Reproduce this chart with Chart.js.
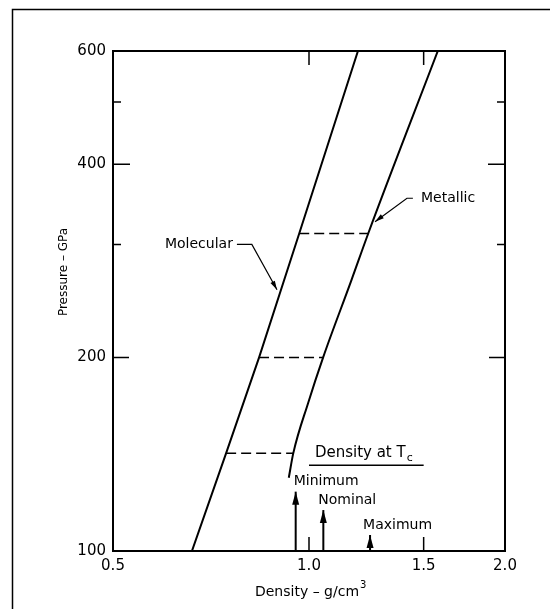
<!DOCTYPE html>
<html>
<head>
<meta charset="utf-8">
<script src="https://cdn.jsdelivr.net/npm/chart.js@4.4.0/dist/chart.umd.min.js"></script>
<style>
  html, body { margin: 0; padding: 0; background: #fff; }
  #wrap { width: 550px; height: 609px; position: relative; }
</style>
</head>
<body>
<div id="wrap"><canvas id="myChart"></canvas></div>
<script>
// pressure (GPa) against density (g/cm3) for the two phases
var molecularDensity = [0.661, 0.746, 0.838, 0.966, 1.189];
var molecularPressure = [100, 142, 200, 312, 600];
var metallicDensity = [0.931, 0.946, 0.997, 1.051, 1.162, 1.233, 1.577];
var metallicPressure = [130, 142, 170, 200, 264, 312, 600];

// dashed tie lines at equal pressure
var tiePressure = [142, 200, 312];
var tieMolecular = [0.746, 0.838, 0.966];
var tieMetallic = [0.946, 1.051, 1.233];

// density at Tc markers
var tcLabels = ['Minimum', 'Nominal', 'Maximum'];
var tcDensity = [0.954, 1.052, 1.241];
var tcArrowTop = [123.7, 115.8, 105.9];

var xTicks = [0.5, 1.0, 1.5, 2.0];
var yTicks = [100, 200, 400, 600];

var FONT = 'DejaVu Sans';

function pts(xs, ys) {
    return xs.map(function (x, i) { return { x: x, y: ys[i] }; });
}

var datasets = [
    { label: 'Molecular', data: pts(molecularDensity, molecularPressure), borderWidth: 2 },
    { label: 'Metallic', data: pts(metallicDensity, metallicPressure), borderWidth: 2, cubicInterpolationMode: 'monotone' }
];
tiePressure.forEach(function (p, i) {
    datasets.push({
        label: 'tie' + i,
        data: [{ x: tieMolecular[i], y: p }, { x: tieMetallic[i], y: p }],
        borderWidth: 1.5,
        borderDash: [10, 5]
    });
});
tcDensity.forEach(function (d, i) {
    datasets.push({
        label: tcLabels[i],
        data: [{ x: d, y: 100 }, { x: d, y: tcArrowTop[i] }],
        borderWidth: 2
    });
});
datasets.forEach(function (ds) {
    ds.borderColor = '#000';
    ds.backgroundColor = '#000';
    ds.pointRadius = 0;
    ds.showLine = true;
    ds.fill = false;
});

function arrowHead(ctx, tx, ty, fx, fy, len, half) {
    var a = Math.atan2(ty - fy, tx - fx);
    ctx.beginPath();
    ctx.moveTo(tx, ty);
    ctx.lineTo(tx - len * Math.cos(a) + half * Math.sin(a), ty - len * Math.sin(a) - half * Math.cos(a));
    ctx.lineTo(tx - len * Math.cos(a) - half * Math.sin(a), ty - len * Math.sin(a) + half * Math.cos(a));
    ctx.closePath();
    ctx.fill();
}

var decorations = {
    id: 'decorations',
    afterDatasetsDraw: function (chart) {
        var ctx = chart.ctx;
        var xs = chart.scales.x, ys = chart.scales.y;
        var a = chart.chartArea;
        var X = function (v) { return xs.getPixelForValue(v); };
        var Y = function (v) { return ys.getPixelForValue(v); };
        ctx.save();
        ctx.strokeStyle = '#000';
        ctx.fillStyle = '#000';

        // outer frame (top and left edge)
        ctx.lineWidth = 1.5;
        ctx.beginPath();
        ctx.moveTo(12.5, 609);
        ctx.lineTo(12.5, 9.5);
        ctx.lineTo(550, 9.5);
        ctx.stroke();

        // plot box
        ctx.lineWidth = 2;
        ctx.strokeRect(a.left, a.top, a.right - a.left, a.bottom - a.top);

        // inward ticks
        ctx.lineWidth = 1.5;
        ctx.beginPath();
        [[200, 16], [300, 8], [400, 17], [500, 8]].forEach(function (t) {
            var y = Y(t[0]);
            ctx.moveTo(a.left, y); ctx.lineTo(a.left + t[1], y);
            ctx.moveTo(a.right, y); ctx.lineTo(a.right - t[1], y);
        });
        [1.0, 1.5].forEach(function (v) {
            var x = X(v);
            ctx.moveTo(x, a.bottom); ctx.lineTo(x, a.bottom - 14);
            ctx.moveTo(x, a.top); ctx.lineTo(x, a.top + 14);
        });
        ctx.stroke();

        // arrowheads on the Tc markers and their labels
        ctx.font = '14px "' + FONT + '"';
        ctx.textBaseline = 'middle';
        ctx.textAlign = 'left';
        var labelShift = [-2, -5, -7];
        tcDensity.forEach(function (d, i) {
            var x = X(d), y = Y(tcArrowTop[i]);
            arrowHead(ctx, x, y, x, y + 20, 13, 3.5);
            ctx.fillText(tcLabels[i], x + labelShift[i], y - 10);
        });

        // "Density at Tc" heading, underlined from 1.0 to 1.5
        var uy = Y(136);
        ctx.lineWidth = 1.5;
        ctx.beginPath();
        ctx.moveTo(X(1.0), uy); ctx.lineTo(X(1.5), uy);
        ctx.stroke();
        ctx.textBaseline = 'alphabetic';
        ctx.font = '15px "' + FONT + '"';
        var hx = X(1.021), hy = uy - 8;
        ctx.fillText('Density at T', hx, hy);
        var w = ctx.measureText('Density at T').width;
        ctx.font = '11px "' + FONT + '"';
        ctx.fillText('c', hx + w + 1, hy + 4);

        // Molecular leader
        ctx.font = '14px "' + FONT + '"';
        ctx.textBaseline = 'middle';
        ctx.lineWidth = 1.2;
        var my = Y(300);
        ctx.textAlign = 'right';
        ctx.fillText('Molecular', X(0.764), my);
        var tipX = X(0.893), tipY = Y(255);
        ctx.beginPath();
        ctx.moveTo(X(0.775), my); ctx.lineTo(X(0.817), my); ctx.lineTo(tipX, tipY);
        ctx.stroke();
        arrowHead(ctx, tipX, tipY, X(0.817), my, 9, 2.5);

        // Metallic leader
        var ty = Y(354);
        ctx.textAlign = 'left';
        ctx.fillText('Metallic', X(1.486), ty);
        tipX = X(1.263); tipY = Y(325.5);
        ctx.beginPath();
        ctx.moveTo(X(1.444), ty); ctx.lineTo(X(1.414), ty); ctx.lineTo(tipX, tipY);
        ctx.stroke();
        arrowHead(ctx, tipX, tipY, X(1.414), ty, 9, 2.5);

        // axis titles
        ctx.textAlign = 'center';
        ctx.save();
        ctx.translate(64, 272);
        ctx.rotate(-Math.PI / 2);
        ctx.font = '12px "' + FONT + '"';
        ctx.fillText('Pressure \u2013 GPa', 0, 0);
        ctx.restore();

        ctx.font = '14px "' + FONT + '"';
        ctx.textAlign = 'left';
        var t1 = 'Density \u2013 g/cm';
        var tw = ctx.measureText(t1).width;
        var sx = 311 - (tw + 8) / 2;
        ctx.fillText(t1, sx, 592);
        ctx.font = '10px "' + FONT + '"';
        ctx.fillText('3', sx + tw + 1, 585);
        ctx.restore();
    }
};

var ctx = document.getElementById('myChart');
var myChart = new Chart(ctx, {
    type: 'scatter',
    data: { datasets: datasets },
    options: {
        responsive: true,
        maintainAspectRatio: false,
        animation: false,
        layout: { padding: { left: 0, top: 51, right: 45, bottom: 0 } },
        plugins: { legend: { display: false }, tooltip: { enabled: false } },
        scales: {
            x: {
                type: 'logarithmic',
                min: 0.5,
                max: 2.0,
                grid: { display: false, drawTicks: false },
                border: { display: false },
                afterBuildTicks: function (s) { s.ticks = xTicks.map(function (v) { return { value: v }; }); },
                afterFit: function (s) { s.height = 58; },
                ticks: {
                    color: '#000',
                    padding: 6,
                    autoSkip: false,
                    maxRotation: 0,
                    font: { family: FONT, size: 15 },
                    callback: function (v) { return Number(v).toFixed(1); }
                }
            },
            y: {
                type: 'logarithmic',
                min: 100,
                max: 600,
                grid: { display: false, drawTicks: false },
                border: { display: false },
                afterBuildTicks: function (s) { s.ticks = yTicks.map(function (v) { return { value: v }; }); },
                afterFit: function (s) { s.width = 113; },
                ticks: {
                    color: '#000',
                    padding: 7,
                    autoSkip: false,
                    font: { family: FONT, size: 15 },
                    callback: function (v) { return String(v); }
                }
            }
        }
    },
    plugins: [decorations]
});
</script>
</body>
</html>
